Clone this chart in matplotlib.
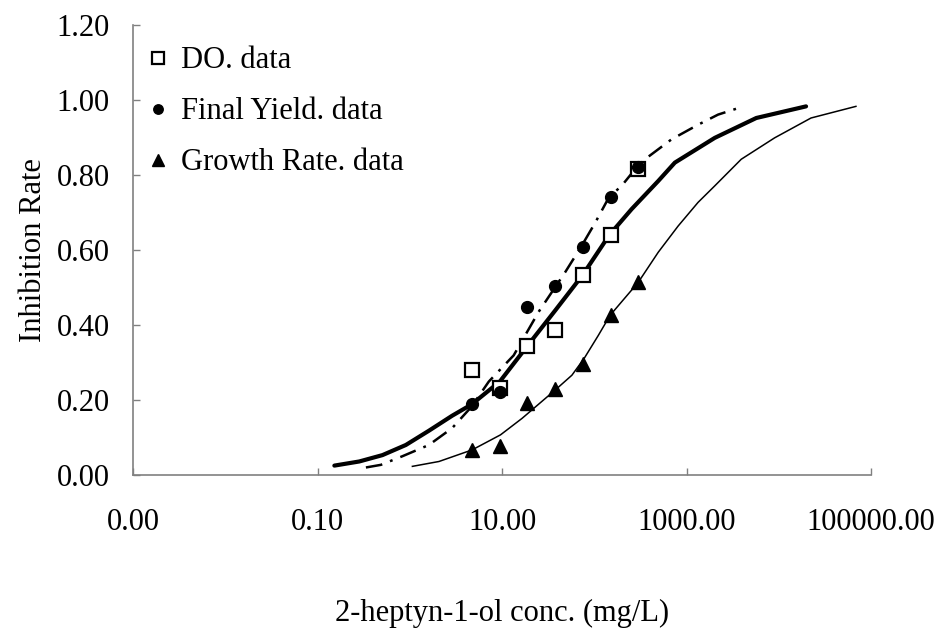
import matplotlib
matplotlib.use("Agg")
import matplotlib.pyplot as plt
from matplotlib.ticker import FixedLocator, FixedFormatter, NullLocator

plt.rcParams['font.family'] = ['Liberation Serif', 'DejaVu Serif']
plt.rcParams['lines.scale_dashes'] = False

# Observed data (concentration mg/L, inhibition rate)
conc = [4.69, 9.38, 18.75, 37.5, 75, 150, 300]
do_data = [0.28, 0.233, 0.344, 0.386, 0.534, 0.64, 0.817]
fy_data = [0.188, 0.222, 0.449, 0.504, 0.609, 0.741, 0.822]
gr_data = [0.067, 0.078, 0.191, 0.229, 0.297, 0.426, 0.514]

# Fitted curves
do_fit_x = [0.151, 0.281, 0.502, 0.90, 1.60, 2.86, 4.64, 9.40, 18.7, 37.6, 74.8,
            145, 253, 492, 745, 2018, 5690, 19720]
do_fit_y = [0.025, 0.036, 0.053, 0.080, 0.118, 0.158, 0.188, 0.249, 0.344, 0.439,
            0.534, 0.640, 0.709, 0.784, 0.833, 0.899, 0.952, 0.983]

fy_fit_x = [0.332, 0.482, 0.826, 1.60, 2.86, 4.64, 7.14, 13.3, 24.8, 48.2, 71.8,
            102, 144, 197, 290, 353, 685, 1330, 2190, 3910]
fy_fit_y = [0.020, 0.027, 0.050, 0.080, 0.125, 0.182, 0.249, 0.319, 0.435, 0.541,
            0.609, 0.673, 0.741, 0.771, 0.822, 0.842, 0.895, 0.934, 0.961, 0.981]

gr_fit_x = [1.06, 2.06, 4.72, 9.57, 16.4, 38.5, 56.9, 77.4, 110, 148, 299, 492,
            809, 1330, 2018, 3910, 8990, 22340, 68550]
gr_fit_y = [0.023, 0.036, 0.067, 0.107, 0.151, 0.229, 0.266, 0.311, 0.372, 0.426,
            0.514, 0.594, 0.664, 0.727, 0.771, 0.842, 0.899, 0.952, 0.983]

x_ticks = [0.001, 0.1, 10, 1000, 100000]
x_ticklabels = ['0.00', '0.10', '10.00', '1000.00', '100000.00']
y_ticks = [0.0, 0.2, 0.4, 0.6, 0.8, 1.0, 1.2]
y_ticklabels = ['0.00', '0.20', '0.40', '0.60', '0.80', '1.00', '1.20']

fig = plt.figure(figsize=(9.36, 6.41), dpi=100)
ax = fig.add_axes([0.1426, 0.2590, 0.788, 0.7020])

ax.plot(do_fit_x, do_fit_y, color='black', lw=3.0, solid_capstyle='round', zorder=2)
ax.plot(fy_fit_x, fy_fit_y, color='black', lw=1.8, ls=(0, (12, 6, 2, 6)), zorder=2)
ax.plot(gr_fit_x, gr_fit_y, color='black', lw=1.1, zorder=2)

ax.plot(conc, do_data, ls='none', marker='s', ms=10.5, mfc='white', mec='black',
        mew=1.6, label='DO. data', zorder=3)
ax.plot(conc, fy_data, ls='none', marker='o', ms=8.5, mfc='black', mec='black',
        label='Final Yield. data', zorder=4)
ax.plot(conc, gr_data, ls='none', marker='^', ms=10, mfc='black', mec='black',
        label='Growth Rate. data', zorder=3)

ax.set_xscale('log')
ax.set_xlim(0.001, 100000)
ax.set_ylim(0, 1.2)
ax.xaxis.set_major_locator(FixedLocator(x_ticks))
ax.xaxis.set_major_formatter(FixedFormatter(x_ticklabels))
ax.xaxis.set_minor_locator(NullLocator())
ax.set_yticks(y_ticks)
ax.set_yticklabels(y_ticklabels)

for s in ['top', 'right']:
    ax.spines[s].set_visible(False)
for s in ['left', 'bottom']:
    ax.spines[s].set_color('#808080')
    ax.spines[s].set_linewidth(1.2)

ax.tick_params(axis='both', direction='in', length=5, width=1, color='#808080',
               labelsize=22, labelcolor='black')
ax.tick_params(axis='x', pad=24)
ax.tick_params(axis='y', pad=17)

ax.set_ylabel('Inhibition Rate', fontsize=22, labelpad=6)
ax.set_xlabel('2-heptyn-1-ol conc. (mg/L)', fontsize=22, labelpad=44)

leg = ax.legend(loc='upper left', bbox_to_anchor=(0.008, 0.973), frameon=False,
                fontsize=22, handlelength=0.6, handletextpad=0.45,
                labelspacing=0.72, borderpad=0, borderaxespad=0.3, markerscale=0.8)

fig.savefig('out.png', dpi=100)
